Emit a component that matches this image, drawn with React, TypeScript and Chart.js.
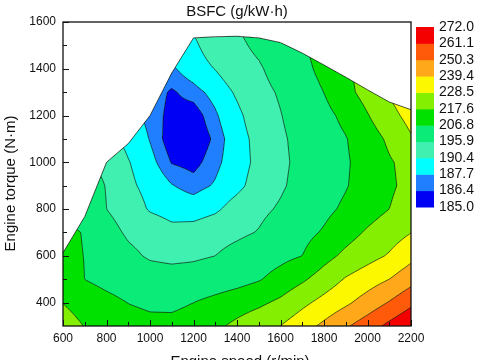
import React, { useEffect, useRef } from "react";
import { Chart, registerables } from "chart.js";
Chart.register(...registerables);

const FONT = "'Liberation Sans', Arial, sans-serif";

const SPEEDS = [600, 700, 800, 900, 1000, 1100, 1200, 1300, 1400, 1500, 1600, 1700, 1800, 1900, 2000, 2100, 2200];
const TORQUES = [300, 400, 500, 600, 700, 800, 900, 1000, 1100, 1200, 1300, 1400, 1500, 1600];

const BSFC_T300 = [222, 217.3, 214, 211, 209.5, 209.5, 211, 215.5, 220, 224.3, 228.6, 235, 241.7, 248.9, 256, 263.8, 271];
const BSFC_T400 = [217.4, 213.5, 210, 206.6, 205, 204.8, 206.8, 209.7, 212.7, 215.6, 219.7, 226, 231.9, 237.5, 244, 251, 258.7];
const BSFC_T500 = [213, 206.7, 203.5, 201, 199.5, 199, 199.5, 201, 203, 206, 210.6, 216, 222.5, 229.4, 234.4, 239.4, 246.4];
const BSFC_T600 = [209.5, 206.6, 202, 197.6, 195, 194.2, 194.7, 195.9, 198.7, 201.4, 204.1, 206.8, 214, 220, 224.8, 229.5, 236.2];
const BSFC_T700 = [209.5, 206.2, 198.7, 194.8, 193, 191.5, 191.8, 192.8, 194.3, 196.3, 200, 203.7, 207.8, 213.5, 218.9, 223.6, 228.3];
const BSFC_T800 = [206, 201.5, 195.9, 192.6, 190, 189, 188.8, 189.8, 191.9, 194.1, 196.8, 200.6, 204.4, 208.5, 213.1, 217.6, 223];
const BSFC_T900 = [203, 199.5, 195.6, 191.2, 189.2, 187.8, 187, 187.9, 189.5, 191.9, 194.9, 198.5, 202.4, 206.2, 211, 215.9, 220.8];
const BSFC_T1000 = [200, 196.5, 194.3, 190.6, 188.3, 186.3, 185.9, 187.2, 188.9, 191.3, 194.4, 197.9, 201.8, 205.7, 210.9, 216.6, 221];
const BSFC_T1100 = [197, 194, 191.5, 189.3, 187.6, 185.5, 185.2, 186.7, 189, 191.5, 194.7, 198.4, 202.3, 206.3, 212.5, 219.4, 227.5];
const BSFC_T1200 = [194, 192, 190, 188.5, 187.2, 185.9, 185.6, 187.4, 189.6, 192.4, 195.6, 199.7, 203.9, 209.3, 217, 225, 232];
const BSFC_T1300 = [192, 190.5, 189, 188, 187.2, 186.2, 187, 188.4, 190.9, 193.6, 196.7, 201.9, 206.9, 214.5, 221.5, 229.5, 236];
const BSFC_T1400 = [191, 190, 189, 188.3, 187.8, 187.4, 188.8, 190.5, 192.8, 195, 199, 204, 209.6, 216, 222, 228, 234];
const BSFC_T1500 = [191, 190, 189.5, 189, 188.8, 188.8, 189.8, 192.2, 194.4, 197.4, 201.6, 205.9, 211, 217, 223, 229, 235];
const BSFC_T1600 = [192, 191, 190.5, 190.2, 190, 190.2, 191, 193.5, 196, 199.5, 203.5, 208, 213, 219, 225, 231, 237];

const GRID = [
  BSFC_T300, BSFC_T400, BSFC_T500, BSFC_T600, BSFC_T700, BSFC_T800, BSFC_T900,
  BSFC_T1000, BSFC_T1100, BSFC_T1200, BSFC_T1300, BSFC_T1400, BSFC_T1500, BSFC_T1600,
];

// external characteristic (max torque) per speed
const MAX_TORQUE = [613, 768, 1000, 1080, 1200, 1382, 1532, 1537, 1539, 1532, 1512, 1467, 1416, 1364, 1310, 1258, 1225];

const LEVELS = [185.0, 186.4, 187.7, 190.4, 195.9, 206.8, 217.6, 228.5, 239.4, 250.3, 261.1, 272.0];
const LEVEL_LABELS = ["185.0", "186.4", "187.7", "190.4", "195.9", "206.8", "217.6", "228.5", "239.4", "250.3", "261.1", "272.0"];
const BAND_COLORS = [
  "#0000f5", "#1f7fff", "#00ffff", "#40f0b0", "#0aeb78", "#00e100",
  "#84ef00", "#fcf800", "#ffa91a", "#ff5a0a", "#f50000",
];

const X_TICKS = [600, 800, 1000, 1200, 1400, 1600, 1800, 2000, 2200];
const X_MINOR = [700, 900, 1100, 1300, 1500, 1700, 1900, 2100];
const Y_TICKS = [400, 600, 800, 1000, 1200, 1400, 1600];
const Y_MINOR = [500, 700, 900, 1100, 1300, 1500];

const TITLE = "BSFC (g/kW\u00b7h)";
const X_TITLE = "Engine speed (r/min)";
const Y_TITLE = "Engine torque (N\u00b7m)";

function locate(arr: number[], v: number): [number, number] {
  const n = arr.length;
  if (v <= arr[0]) return [0, 0];
  if (v >= arr[n - 1]) return [n - 2, 1];
  let i = 0;
  while (i < n - 2 && v > arr[i + 1]) i++;
  return [i, (v - arr[i]) / (arr[i + 1] - arr[i])];
}

function field(s: number, t: number): number {
  const [i, fx] = locate(SPEEDS, s);
  const [j, fy] = locate(TORQUES, t);
  const r0 = GRID[j], r1 = GRID[j + 1];
  const a = r0[i] * (1 - fx) + r0[i + 1] * fx;
  const b = r1[i] * (1 - fx) + r1[i + 1] * fx;
  return a * (1 - fy) + b * fy;
}

function maxTorque(s: number): number {
  const [i, f] = locate(SPEEDS, s);
  return MAX_TORQUE[i] * (1 - f) + MAX_TORQUE[i + 1] * f;
}

function bandOf(v: number): number {
  for (let k = LEVELS.length - 2; k >= 0; k--) if (v >= LEVELS[k]) return k;
  return 0;
}

function hexToRgb(h: string): number[] {
  const n = parseInt(h.slice(1), 16);
  return [(n >> 16) & 255, (n >> 8) & 255, n & 255];
}

const contourPlugin = {
  id: "contourPlugin",
  beforeDatasetsDraw(chart: any) {
    const { ctx, chartArea: a, scales } = chart;
    const xs = scales.x, ys = scales.y;
    const w = Math.round(a.right - a.left), h = Math.round(a.bottom - a.top);
    const off = document.createElement("canvas");
    off.width = w; off.height = h;
    const octx = off.getContext("2d")!;
    const img = octx.createImageData(w, h);
    const rgb = BAND_COLORS.map(hexToRgb);
    for (let py = 0; py < h; py++) {
      const t = ys.getValueForPixel(a.top + py + 0.5);
      for (let px = 0; px < w; px++) {
        const s = xs.getValueForPixel(a.left + px + 0.5);
        if (t > maxTorque(s)) continue;
        const c = rgb[bandOf(field(s, t))];
        const k = (py * w + px) * 4;
        img.data[k] = c[0]; img.data[k + 1] = c[1]; img.data[k + 2] = c[2]; img.data[k + 3] = 255;
      }
    }
    octx.putImageData(img, 0, 0);
    ctx.drawImage(off, a.left, a.top);

    // clip to valid region
    ctx.save();
    ctx.beginPath();
    ctx.moveTo(xs.getPixelForValue(SPEEDS[0]), ys.getPixelForValue(TORQUES[0]));
    SPEEDS.forEach((s, i) => ctx.lineTo(xs.getPixelForValue(s), ys.getPixelForValue(MAX_TORQUE[i])));
    ctx.lineTo(xs.getPixelForValue(SPEEDS[SPEEDS.length - 1]), ys.getPixelForValue(TORQUES[0]));
    ctx.closePath();
    ctx.clip();

    // marching squares contour lines
    const step = 2;
    const nx = Math.ceil(w / step), ny = Math.ceil(h / step);
    const V: number[][] = [];
    for (let j = 0; j <= ny; j++) {
      const row: number[] = [];
      const t = ys.getValueForPixel(a.top + Math.min(j * step, h));
      for (let i = 0; i <= nx; i++) {
        const s = xs.getValueForPixel(a.left + Math.min(i * step, w));
        row.push(field(s, t));
      }
      V.push(row);
    }
    ctx.beginPath();
    for (let L = 1; L < LEVELS.length - 1; L++) {
      const lv = LEVELS[L];
      for (let j = 0; j < ny; j++) {
        const y0 = a.top + Math.min(j * step, h), y1 = a.top + Math.min((j + 1) * step, h);
        for (let i = 0; i < nx; i++) {
          const x0 = a.left + Math.min(i * step, w), x1 = a.left + Math.min((i + 1) * step, w);
          const tl = V[j][i], tr = V[j][i + 1], br = V[j + 1][i + 1], bl = V[j + 1][i];
          const pts: number[][] = [];
          const edge = (va: number, vb: number, xa: number, ya: number, xb: number, yb: number) => {
            if ((va >= lv) !== (vb >= lv)) {
              const f = (lv - va) / (vb - va);
              pts.push([xa + (xb - xa) * f, ya + (yb - ya) * f]);
            }
          };
          edge(tl, tr, x0, y0, x1, y0);
          edge(tr, br, x1, y0, x1, y1);
          edge(bl, br, x0, y1, x1, y1);
          edge(tl, bl, x0, y0, x0, y1);
          if (pts.length >= 2) {
            ctx.moveTo(pts[0][0], pts[0][1]); ctx.lineTo(pts[1][0], pts[1][1]);
            if (pts.length === 4) { ctx.moveTo(pts[2][0], pts[2][1]); ctx.lineTo(pts[3][0], pts[3][1]); }
          }
        }
      }
    }
    ctx.strokeStyle = "rgba(20,30,20,0.85)";
    ctx.lineWidth = 0.8;
    ctx.stroke();
    ctx.restore();

    // boundary line
    ctx.save();
    ctx.beginPath();
    SPEEDS.forEach((s, i) => {
      const px = xs.getPixelForValue(s), py = ys.getPixelForValue(MAX_TORQUE[i]);
      if (i === 0) ctx.moveTo(px, py); else ctx.lineTo(px, py);
    });
    ctx.strokeStyle = "rgba(20,30,20,0.85)";
    ctx.lineWidth = 0.9;
    ctx.stroke();
    ctx.restore();
  },
  afterDraw(chart: any) {
    const { ctx, chartArea: a, scales } = chart;
    const xs = scales.x, ys = scales.y;
    ctx.save();
    // frame
    ctx.strokeStyle = "#111";
    ctx.lineWidth = 1.3;
    ctx.strokeRect(a.left, a.top, a.right - a.left, a.bottom - a.top);
    // ticks (inward)
    ctx.lineWidth = 1;
    ctx.beginPath();
    X_TICKS.forEach((v) => { const p = Math.round(xs.getPixelForValue(v)) + 0.5; ctx.moveTo(p, a.bottom); ctx.lineTo(p, a.bottom - 6); });
    X_MINOR.forEach((v) => { const p = Math.round(xs.getPixelForValue(v)) + 0.5; ctx.moveTo(p, a.bottom); ctx.lineTo(p, a.bottom - 4); });
    Y_TICKS.forEach((v) => { const p = Math.round(ys.getPixelForValue(v)) + 0.5; ctx.moveTo(a.left, p); ctx.lineTo(a.left + 6, p); });
    Y_MINOR.forEach((v) => { const p = Math.round(ys.getPixelForValue(v)) + 0.5; ctx.moveTo(a.left, p); ctx.lineTo(a.left + 4, p); });
    ctx.stroke();

    // titles
    ctx.fillStyle = "#111";
    ctx.font = `15px ${FONT}`;
    ctx.textAlign = "center";
    ctx.textBaseline = "alphabetic";
    ctx.fillText(TITLE, (a.left + a.right) / 2, 16);
    ctx.fillText(X_TITLE, 240, 366);
    ctx.save();
    ctx.translate(15, 183.5);
    ctx.rotate(-Math.PI / 2);
    ctx.fillText(Y_TITLE, 0, 0);
    ctx.restore();

    // colour bar
    const cbX = 416, cbW = 18, cbTop = 27, cbBot = 207;
    const nb = BAND_COLORS.length;
    const bh = (cbBot - cbTop) / nb;
    for (let k = 0; k < nb; k++) {
      const y0 = cbBot - (k + 1) * bh;
      ctx.fillStyle = BAND_COLORS[k];
      ctx.fillRect(cbX, y0, cbW, bh + 0.5);
    }
    ctx.fillStyle = "#111";
    ctx.font = `14px ${FONT}`;
    ctx.textAlign = "left";
    ctx.textBaseline = "middle";
    LEVEL_LABELS.forEach((lab, k) => {
      ctx.fillText(lab, 439, cbBot - k * bh);
    });
    ctx.restore();
  },
};

export default function App() {
  const ref = useRef<HTMLCanvasElement>(null);
  useEffect(() => {
    if (!ref.current) return;
    const tickFont = { family: FONT, size: 12 };
    const chart = new Chart(ref.current, {
      type: "scatter",
      data: { datasets: [{ data: [], pointRadius: 0 }] },
      options: {
        animation: false,
        responsive: false,
        devicePixelRatio: 1,
        layout: { padding: { top: 22, right: 69, bottom: 0, left: 0 } },
        plugins: { legend: { display: false }, tooltip: { enabled: false }, title: { display: false } },
        scales: {
          x: {
            type: "linear", min: 600, max: 2200,
            afterBuildTicks: (s: any) => { s.ticks = X_TICKS.map((v) => ({ value: v })); },
            afterFit: (s: any) => { s.height = 34; },
            ticks: { font: tickFont, color: "#111", padding: 5, maxRotation: 0, autoSkip: false, callback: (v: any) => String(v) },
            grid: { display: false, drawTicks: false },
            border: { display: false },
          },
          y: {
            type: "linear", min: 300, max: 1600,
            afterBuildTicks: (s: any) => { s.ticks = Y_TICKS.map((v) => ({ value: v })); },
            afterFit: (s: any) => { s.width = 63; },
            ticks: { font: tickFont, color: "#111", padding: 7, autoSkip: false, callback: (v: any) => String(v) },
            grid: { display: false, drawTicks: false },
            border: { display: false },
          },
        },
      } as any,
      plugins: [contourPlugin],
    });
    return () => chart.destroy();
  }, []);
  return (
    <div style={{ position: "fixed", left: 0, top: 0, width: 480, height: 360, background: "#fff" }}>
      <canvas ref={ref} width={480} height={360} />
    </div>
  );
}
